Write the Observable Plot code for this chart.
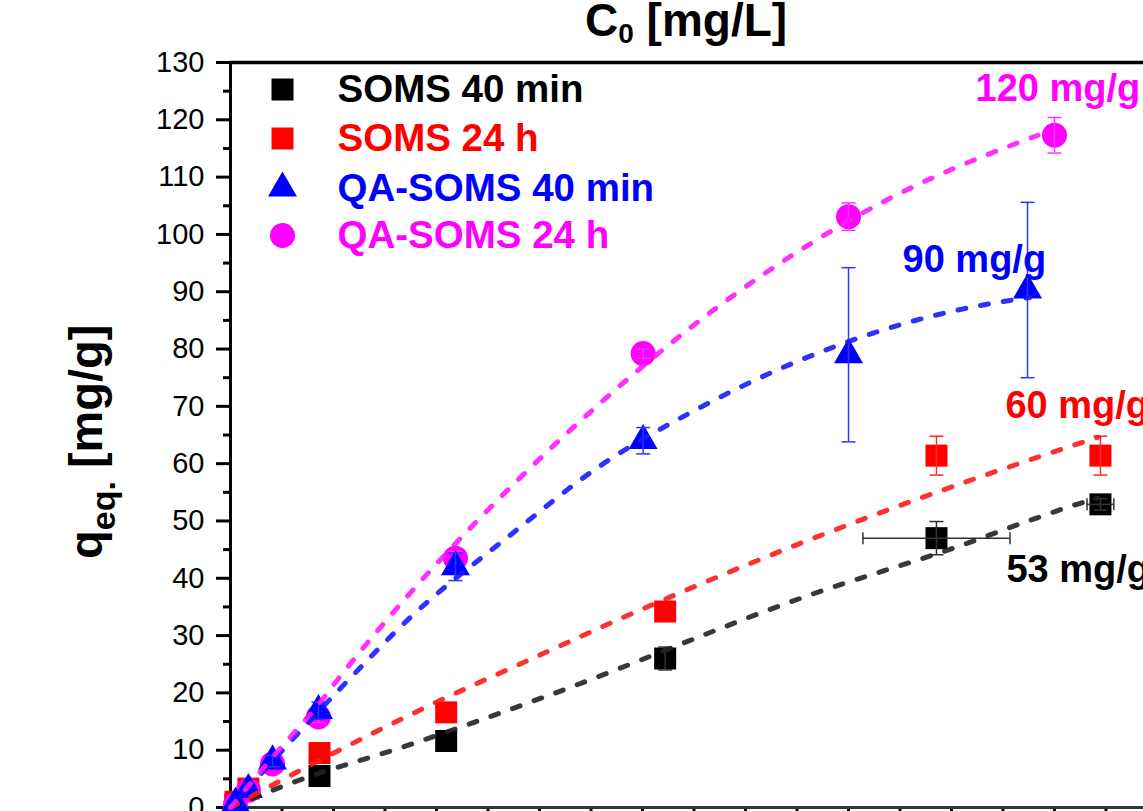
<!DOCTYPE html>
<html>
<head>
<meta charset="utf-8">
<script src="https://cdn.jsdelivr.net/npm/d3@7"></script>
<script src="https://cdn.jsdelivr.net/npm/@observablehq/plot@0.6"></script>
<style>
  html, body { margin: 0; padding: 0; background: #fff; overflow: hidden; }
</style>
</head>
<body>
<div id="chart"></div>
<script>
// Adsorption isotherms: initial concentration C0 (x) vs adsorbed amount q_eq (y)
const seriesNames = ["SOMS 40 min", "SOMS 24 h", "QA-SOMS 40 min", "QA-SOMS 24 h"];

const somsMinX    = [2.4, 43.2, 104.7, 211.0, 342.7, 422.3];
const somsMinQ    = [0.4, 5.5, 11.6, 26.0, 47.0, 52.9];
const somsMinQErr = [0, 0.5, 0.5, 2.0, 2.9, 1.0];
const somsMinXErr = [0, 0, 0, 0, 35.7, 6.5];

const somsDayX    = [2.4, 8.7, 43.2, 104.7, 211.0, 342.7, 422.3];
const somsDayQ    = [1.0, 3.3, 9.5, 16.6, 34.2, 61.4, 61.4];
const somsDayQErr = [0, 0, 0.5, 0.5, 0.5, 3.4, 3.4];

const qaMinX      = [2.4, 8.7, 20.4, 42.7, 109.2, 200.3, 300.0, 386.9];
const qaMinQ      = [0.7, 3.1, 8.1, 16.9, 42.0, 64.0, 79.0, 90.3];
const qaMinQErr   = [0.3, 0.5, 1.0, 1.5, 2.4, 2.3, 15.2, 15.3];

const qaDayX      = [2.4, 8.7, 20.4, 42.7, 109.2, 200.3, 300.0, 400.0];
const qaDayQ      = [0.5, 3.0, 7.6, 15.8, 43.5, 79.2, 103.1, 117.3];
const qaDayQErr   = [0.2, 0.4, 0.8, 1.0, 1.2, 0.8, 2.4, 3.1];

// Fitted isotherm curves
const somsMinFitX = [0, 29, 87.4, 154, 283, 354.4, 388, 411.7, 421];
const somsMinFitQ = [0, 4.2, 11.0, 19.5, 37.3, 45.7, 50.1, 53.0, 54.0];
const somsDayFitX = [0, 48.5, 93.7, 152, 192.7, 309.2, 365.6, 421];
const somsDayFitQ = [0, 9.2, 17.3, 26.9, 33.5, 50.6, 57.9, 64.6];
const qaMinFitX   = [0, 53.4, 87.4, 134.3, 181, 223.3, 267, 294.6, 328.6, 364, 388];
const qaMinFitQ   = [0, 20.8, 33.2, 47.1, 60.0, 68.9, 76.6, 80.6, 84.6, 87.6, 89.0];
const qaDayFitX   = [0, 20, 42.7, 54.4, 84, 134.3, 178, 233, 281.6, 336, 357.7, 392];
const qaDayFitQ   = [0, 8.6, 18.0, 23.4, 36.1, 55.3, 70.1, 86.4, 98.4, 109.1, 112.5, 117.3];

// Maximum capacities
const capacityLabels = ["53 mg/g", "60 mg/g", "90 mg/g", "120 mg/g"];

// Axis ticks
const yMajorTicks = d3.range(0, 131, 10);
const yMinorTicks = d3.range(5, 130, 10);
const xTicks = d3.range(0, 440, 25);

// ---- build tables ----
const points = (name, xs, qs, qErr, xErr) =>
  xs.map((x, i) => ({series: name, x, y: qs[i], ey: qErr ? qErr[i] : 0, ex: xErr ? xErr[i] : 0}));
const curve = (name, xs, qs) => xs.map((x, i) => ({series: name, x, y: qs[i]}));

const seriesData = [
  points(seriesNames[0], somsMinX, somsMinQ, somsMinQErr, somsMinXErr),
  points(seriesNames[1], somsDayX, somsDayQ, somsDayQErr),
  points(seriesNames[2], qaMinX, qaMinQ, qaMinQErr),
  points(seriesNames[3], qaDayX, qaDayQ, qaDayQErr)
];
const fitData = [
  curve(seriesNames[0], somsMinFitX, somsMinFitQ),
  curve(seriesNames[1], somsDayFitX, somsDayFitQ),
  curve(seriesNames[2], qaMinFitX, qaMinFitQ),
  curve(seriesNames[3], qaDayFitX, qaDayFitQ)
];

// ---- styling ----
const FONT = "'Liberation Sans', Arial, Helvetica, sans-serif";
const colors = ["#000000", "#ff0000", "#0000ff", "#ff00ff"];
const errColors = ["#333333", "#ff2a2a", "#3333ff", "#ff33ff"];
const fitColors = ["#222222", "#ff1a1a", "#1a1aff", "#ff1aff"];
const symbols = ["square", "square", "triangle", "circle"];
const radii = [12.41, 12.41, 10.77, 12.5];
// label offsets from each series' last point (px)
const labelOffsets = [[-94, 65], [-95, -50], [-125, -30], [-79, -46]];
// legend rows (px from top-left of the frame)
const legendRows = [27, 76, 125.7, 173];

const hCap = {draw(ctx, size) { const r = Math.sqrt(size / Math.PI); ctx.moveTo(-r, 0); ctx.lineTo(r, 0); }};
const vCap = {draw(ctx, size) { const r = Math.sqrt(size / Math.PI); ctx.moveTo(0, -r); ctx.lineTo(0, r); }};

const drawOrder = [0, 1, 3, 2];
const marks = [];

// axes
marks.push(Plot.axisY({ticks: yMajorTicks, tickSize: 14, tickPadding: 12, strokeWidth: 3,
  fontSize: 29, label: null, tickFormat: d => String(d), anchor: "left"}));
marks.push(Plot.axisY({ticks: yMinorTicks, tickSize: 7, strokeWidth: 3, tickFormat: () => "", label: null, anchor: "left"}));
marks.push(Plot.axisX({ticks: xTicks, tickSize: 10, strokeWidth: 3, tickFormat: () => "", label: null, anchor: "bottom"}));
marks.push(Plot.ruleX([0], {strokeWidth: 3}));
marks.push(Plot.ruleY([130], {strokeWidth: 3.5}));
marks.push(Plot.ruleY([0], {strokeWidth: 3, stroke: "#333"}));

// markers with error bars
for (const i of drawOrder) {
  const data = seriesData[i];
  marks.push(Plot.dot(data, {x: "x", y: "y", symbol: symbols[i], r: radii[i], fill: colors[i], stroke: "none"}));
  const withEy = data.filter(d => d.ey > 0.6);
  marks.push(Plot.ruleX(withEy, {x: "x", y1: d => d.y - d.ey, y2: d => d.y + d.ey, stroke: errColors[i], strokeWidth: 1.5}));
  marks.push(Plot.dot(withEy, {x: "x", y: d => d.y + d.ey, symbol: hCap, r: 7, fill: "none", stroke: errColors[i], strokeWidth: 1.5}));
  marks.push(Plot.dot(withEy, {x: "x", y: d => d.y - d.ey, symbol: hCap, r: 7, fill: "none", stroke: errColors[i], strokeWidth: 1.5}));
  const withEx = data.filter(d => d.ex > 0);
  marks.push(Plot.ruleY(withEx, {y: "y", x1: d => d.x - d.ex, x2: d => d.x + d.ex, stroke: errColors[i], strokeWidth: 1.5}));
  marks.push(Plot.dot(withEx, {x: d => d.x - d.ex, y: "y", symbol: vCap, r: 6, fill: "none", stroke: errColors[i], strokeWidth: 1.5}));
  marks.push(Plot.dot(withEx, {x: d => d.x + d.ex, y: "y", symbol: vCap, r: 6, fill: "none", stroke: errColors[i], strokeWidth: 1.5}));
}

// fitted curves
for (const i of [0, 1, 2, 3]) {
  marks.push(Plot.line(fitData[i], {x: "x", y: "y", stroke: fitColors[i], strokeWidth: 5,
    strokeDasharray: "8,15", curve: "monotone-x", strokeOpacity: 0.9}));
}

// capacity labels next to the last point of each series
for (const i of [0, 1, 2, 3]) {
  const last = seriesData[i][seriesData[i].length - 1];
  marks.push(Plot.text([last], {x: "x", y: "y", text: () => capacityLabels[i], dx: labelOffsets[i][0], dy: labelOffsets[i][1],
    textAnchor: "start", lineAnchor: "middle", fontSize: 38, fontWeight: "bold", fill: colors[i], fontFamily: FONT}));
}

// legend
for (const i of [0, 1, 2, 3]) {
  marks.push(Plot.dot([seriesNames[i]], {frameAnchor: "top-left", dx: 52, dy: legendRows[i],
    symbol: symbols[i], r: radii[i], fill: colors[i], stroke: "none"}));
  marks.push(Plot.text([seriesNames[i]], {frameAnchor: "top-left", dx: 107, dy: legendRows[i], text: d => d,
    textAnchor: "start", lineAnchor: "middle", fontSize: 38.5, fontWeight: "bold", fill: colors[i], fontFamily: FONT}));
}

const chart = Plot.plot({
  width: 1143,
  height: 811,
  marginLeft: 230,
  marginRight: 0,
  marginTop: 62,
  marginBottom: 4,
  x: {domain: [0, 443.2]},
  y: {domain: [0, 130]},
  style: {fontFamily: FONT, background: "#fff", color: "#000", overflow: "visible"},
  marks
});

// axis titles with subscripts
const svg = d3.select(chart);
const title = svg.append("text")
  .attr("x", 585).attr("y", 36).attr("text-anchor", "start")
  .attr("font-family", FONT).attr("font-weight", "bold").attr("font-size", 46).attr("fill", "#000");
title.append("tspan").text("C");
title.append("tspan").attr("font-size", 28).attr("dy", 7).text("0");
title.append("tspan").attr("dy", -7).text(" [mg/L]");

const ylab = svg.append("text")
  .attr("transform", "translate(102,559) rotate(-90)").attr("text-anchor", "start")
  .attr("font-family", FONT).attr("font-weight", "bold").attr("font-size", 47).attr("fill", "#000");
ylab.append("tspan").text("q");
ylab.append("tspan").attr("font-size", 34).attr("dy", 13).text("eq.");
ylab.append("tspan").attr("dy", -13).text(" [mg/g]");

document.getElementById("chart").appendChild(chart);
</script>
</body>
</html>
